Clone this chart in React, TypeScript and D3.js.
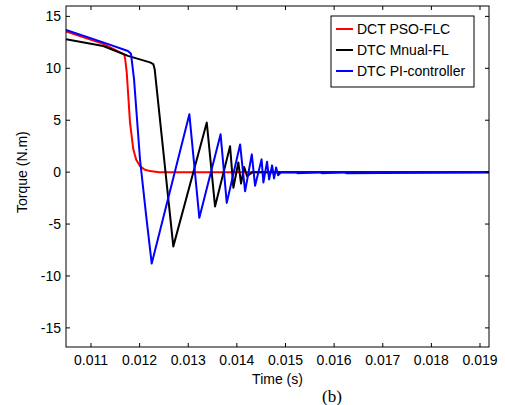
import { useMemo } from "react"
import * as d3 from 'd3'

// time (s) / torque (N.m)
const pidT = [0.010486, 0.01125, 0.01176, 0.011823, 0.011885, 0.012008, 0.012132, 0.012249, 0.013023, 0.013228, 0.013665, 0.013792, 0.014066, 0.014169, 0.014307, 0.014374, 0.014508, 0.014545, 0.014621, 0.014663, 0.014724, 0.014765, 0.014807, 0.014848, 0.01491, 0.0152, 0.01525, 0.0157, 0.01575, 0.0162, 0.01625, 0.0192]
const pidV = [13.7, 12.5, 11.66, 11.4, 8.96, 1.23, -4.1, -8.8, 5.57, -4.4, 3.64, -2.96, 2.67, -1.84, 1.71, -1.3, 1.23, -1.0, 1.0, -0.7, 0.65, -0.6, 0.45, -0.3, 0, 0, -0.1, 0, -0.1, 0, -0.1, 0]

const psoT = [0.010486, 0.01125, 0.01168, 0.0117, 0.011735, 0.011802, 0.01187, 0.01193, 0.012008, 0.0121, 0.012214, 0.0124, 0.0192]
const psoV = [13.55, 12.35, 11.35, 11.0, 9.6, 4.8, 2.2, 1.2, 0.58, 0.25, 0.1, 0, 0]

const flT = [0.010486, 0.01125, 0.01176, 0.012214, 0.012282, 0.01231, 0.012693, 0.013381, 0.013551, 0.01386, 0.013928, 0.01403, 0.014086, 0.01415, 0.01421, 0.01432, 0.0192]
const flV = [12.8, 12.15, 11.2, 10.57, 10.4, 9.9, -7.15, 4.77, -3.3, 2.5, -1.5, 0.93, -1.1, 0.5, -0.4, 0, 0]

const xTicks = [0.011, 0.012, 0.013, 0.014, 0.015, 0.016, 0.017, 0.018, 0.019]
const yTicks = [15, 10, 5, 0, -5, -10, -15]

const series = [
  { name: "DCT PSO-FLC", color: "#ff0000", t: psoT, v: psoV },
  { name: "DTC Mnual-FL", color: "#000000", t: flT, v: flV },
  { name: "DTC PI-controller", color: "#0000ff", t: pidT, v: pidV },
]

const W = 505, H = 405
const m = { left: 66, right: 489, top: 6, bottom: 347 }
const font = "Arial, 'Liberation Sans', sans-serif"

const App = () => {
  const x = useMemo(() => d3.scaleLinear().domain([0.010486, 0.019185]).range([m.left, m.right]), [])
  const y = useMemo(() => d3.scaleLinear().domain([-16.84, 16.0]).range([m.bottom, m.top]), [])

  const line = d3.line<[number, number]>()
    .x(d => x(d[0]))
    .y(d => y(d[1]))

  const lg = { x: 331, y: 16, w: 143, h: 71 }

  return (
    <div style={{ position: "fixed", left: 0, top: 0 }}>
      <svg width={W} height={H} style={{ display: "block", background: "#fff" }}>
        <defs>
          <clipPath id="plot">
            <rect x={m.left} y={m.top} width={m.right - m.left} height={m.bottom - m.top} />
          </clipPath>
        </defs>
        <g clipPath="url(#plot)">
          {series.map(s => (
            <path
              key={s.name}
              d={line(s.t.map((t, i) => [t, s.v[i]] as [number, number])) || ""}
              fill="none"
              stroke={s.color}
              strokeWidth={2}
              strokeLinejoin="round"
            />
          ))}
        </g>
        <rect x={m.left} y={m.top} width={m.right - m.left} height={m.bottom - m.top}
          fill="none" stroke="#000" strokeWidth={1} />
        {xTicks.map(v => (
          <g key={v} transform={`translate(${x(v)}, 0)`}>
            <line y1={m.bottom} y2={m.bottom - 4} stroke="#000" />
            <line y1={m.top} y2={m.top + 4} stroke="#000" />
            <text y={365} textAnchor="middle" fontSize={14} fontFamily={font}>{v.toFixed(3)}</text>
          </g>
        ))}
        {yTicks.map(v => (
          <g key={v} transform={`translate(0, ${y(v)})`}>
            <line x1={m.left} x2={m.left + 4} stroke="#000" />
            <line x1={m.right} x2={m.right - 4} stroke="#000" />
            <text x={61} dy="0.35em" textAnchor="end" fontSize={14} fontFamily={font}>{v}</text>
          </g>
        ))}
        <text x={(m.left + m.right) / 2} y={384} textAnchor="middle" fontSize={14} fontFamily={font}>Time (s)</text>
        <text transform={`translate(27, ${y(0)}) rotate(-90)`} textAnchor="middle" fontSize={14} fontFamily={font}>Torque (N.m)</text>
        <text x={332} y={402} textAnchor="middle" fontSize={17} fontFamily="'Liberation Serif', 'Times New Roman', serif">(b)</text>

        <rect x={lg.x} y={lg.y} width={lg.w} height={lg.h} fill="#fff" stroke="#000" strokeWidth={1} />
        {series.map((s, i) => (
          <g key={s.name} transform={`translate(${lg.x}, ${lg.y + 13 + i * 21})`}>
            <line x1={5} x2={22} stroke={s.color} strokeWidth={2} />
            <text x={26} dy="0.35em" fontSize={14} fontFamily={font}>{s.name}</text>
          </g>
        ))}
      </svg>
    </div>
  )
}

export default App
